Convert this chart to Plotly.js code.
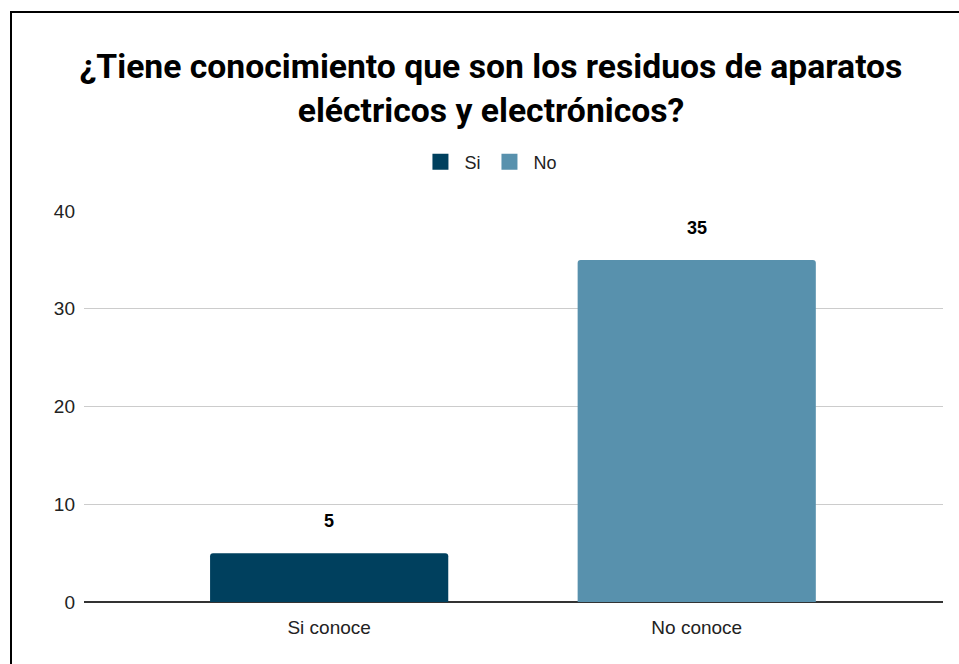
<!DOCTYPE html>
<html>
<head>
<meta charset="utf-8">
<script src="https://cdn.plot.ly/plotly-3.0.1.min.js"></script>
<style>
html,body{margin:0;padding:0;background:#fff;overflow:hidden;}
#chart{width:959px;height:664px;position:absolute;left:0;top:0;}
#frame{position:absolute;left:10px;top:11px;width:1200px;height:1200px;border:2px solid #000;pointer-events:none;box-sizing:border-box;}
</style>
</head>
<body>
<div id="chart"></div>
<div id="frame"></div>
<script>
var categories = ["Si conoce", "No conoce"];
var seriesNames = ["Si", "No"];
var seriesValues = [5, 35];
var seriesColors = ["#00405e", "#5891ad"];
var yTicks = [0, 10, 20, 30, 40];

var traces = [];
for (var i = 0; i < categories.length; i++) {
  traces.push({
    type: "bar",
    name: seriesNames[i],
    x: [categories[i]],
    y: [seriesValues[i]],
    width: 0.648,
    marker: {color: seriesColors[i]},
    showlegend: false,
    legendgroup: seriesNames[i],
    hoverinfo: "x+y"
  });
}
for (var j = 0; j < seriesNames.length; j++) {
  traces.push({
    type: "scatter",
    mode: "markers",
    name: seriesNames[j],
    x: [null],
    y: [null],
    legendgroup: seriesNames[j],
    marker: {symbol: "square", size: 18, color: seriesColors[j]},
    showlegend: true
  });
}

var annotations = categories.map(function (c, i) {
  return {
    x: c, y: seriesValues[i], xref: "x", yref: "y",
    text: "<b>" + seriesValues[i] + "</b>",
    showarrow: false, yshift: 32, yanchor: "middle",
    font: {family: "Arial, Liberation Sans, sans-serif", size: 18, color: "#000"}
  };
});

var layout = {
  width: 959, height: 664,
  margin: {l: 84, r: 16, t: 211, b: 62},
  paper_bgcolor: "#fff", plot_bgcolor: "#fff",
  barmode: "overlay",
  barcornerradius: 3,
  font: {family: "Arial, Liberation Sans, sans-serif", size: 18, color: "#222"},
  title: {
    text: "<b>¿Tiene conocimiento que son los residuos de aparatos<br>eléctricos y electrónicos?</b>",
    font: {family: "Roboto, Arial, sans-serif", size: 33.7, color: "#000"},
    x: 0.512, xanchor: "center", xref: "container",
    y: 1 - 78 / 664, yanchor: "top", yref: "container"
  },
  legend: {
    orientation: "h", x: 0.472, xanchor: "center", y: 1.125, yanchor: "middle",
    itemwidth: 38,
    font: {size: 18, color: "#222"}, itemclick: false
  },
  xaxis: {
    type: "category", range: [-0.667, 1.67],
    showgrid: false, zeroline: false, showline: false,
    ticks: "", ticklabelstandoff: 12,
    tickfont: {size: 19, color: "#222"}, fixedrange: true
  },
  yaxis: {
    range: [0, 40], tickvals: yTicks,
    showgrid: true, gridcolor: "#cccccc", gridwidth: 1,
    zeroline: true, zerolinecolor: "#333333", zerolinewidth: 2,
    showline: false, ticks: "", ticklabelstandoff: 8,
    tickfont: {size: 19, color: "#222"}, fixedrange: true
  },
  annotations: annotations
};

Plotly.newPlot("chart", traces, layout, {displayModeBar: false, staticPlot: true});
</script>
</body>
</html>
